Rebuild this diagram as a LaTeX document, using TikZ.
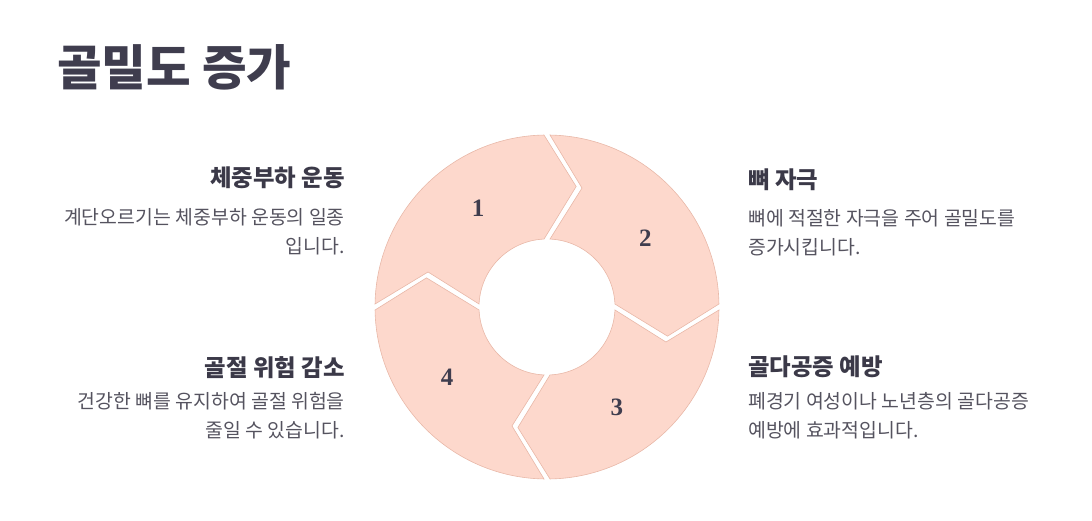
\documentclass[tikz,border=0pt]{standalone}
\usepackage{fontspec}
\newfontfamily\kr{Noto Sans CJK KR}
\newfontfamily\numfont{Liberation Serif}
\definecolor{titlecol}{HTML}{3F3D4E}
\definecolor{headcol}{HTML}{3B3948}
\definecolor{bodycol}{HTML}{55535F}
\definecolor{segfill}{HTML}{FDD8CC}
\definecolor{segline}{HTML}{E8B8A8}
\begin{document}
\begin{tikzpicture}[x=1pt,y=1pt,
    heading/.style={inner sep=0pt,text=headcol,font=\kr\bfseries\fontsize{23.4}{27}\selectfont},
    body/.style={inner sep=0pt,text=bodycol,font=\kr\fontsize{19.4}{29}\selectfont},
    numlabel/.style={inner sep=0pt,text=titlecol,font=\numfont\bfseries\fontsize{25}{28}\selectfont}]
    \useasboundingbox (0,0) rectangle (1092,520);
    % Tiêu đề
    \node[anchor=west,inner sep=0pt,text=titlecol,font=\kr\bfseries\fontsize{48.5}{54}\selectfont] (title) at (57,453) {골밀도 증가};

    % Vòng tròn bốn phần
    \begin{scope}[shift={(547,213)}]
    \foreach \k in {0,...,3} {
        \pgfmathsetmacro\ang{180-90*\k}
        \pgfmathsetmacro\nxt{\ang-90}
        \filldraw[fill=segfill,draw=segline,line width=0.6pt]
            ({\ang-1}:172) arc[start angle=\ang-1,end angle=\nxt+1,radius=172]
            -- ({\nxt-15+1.4}:124) -- ({\nxt+2.5}:68)
            arc[start angle=\nxt+2.5,end angle=\ang-2.5,radius=68]
            -- ({\ang-15-1.4}:124) -- cycle;
    }
    % Đánh số các phần
    \node[numlabel] (n1) at (125:120) {1};
    \node[numlabel] (n2) at (35:120) {2};
    \node[numlabel] (n3) at (-55:122) {3};
    \node[numlabel] (n4) at (-145:122) {4};
    \end{scope}

    % Bên trái
    \node[heading,anchor=east] (h1) at (345,342) {체중부하 운동};
    \node[body,anchor=east,align=right] (b1) at (345,288) {계단오르기는 체중부하 운동의 일종\\입니다.};
    \node[heading,anchor=east] (h4) at (345,152) {골절 위험 감소};
    \node[body,anchor=east,align=right] (b4) at (345,104) {건강한 뼈를 유지하여 골절 위험을\\줄일 수 있습니다.};

    % Bên phải
    \node[heading,anchor=west] (h2) at (748,340) {뼈 자극};
    \node[body,anchor=west,align=left] (b2) at (748,287) {뼈에 적절한 자극을 주어 골밀도를\\증가시킵니다.};
    \node[heading,anchor=west] (h3) at (748,153) {골다공증 예방};
    \node[body,anchor=west,align=left] (b3) at (748,104) {폐경기 여성이나 노년층의 골다공증\\예방에 효과적입니다.};
\end{tikzpicture}
\end{document}
